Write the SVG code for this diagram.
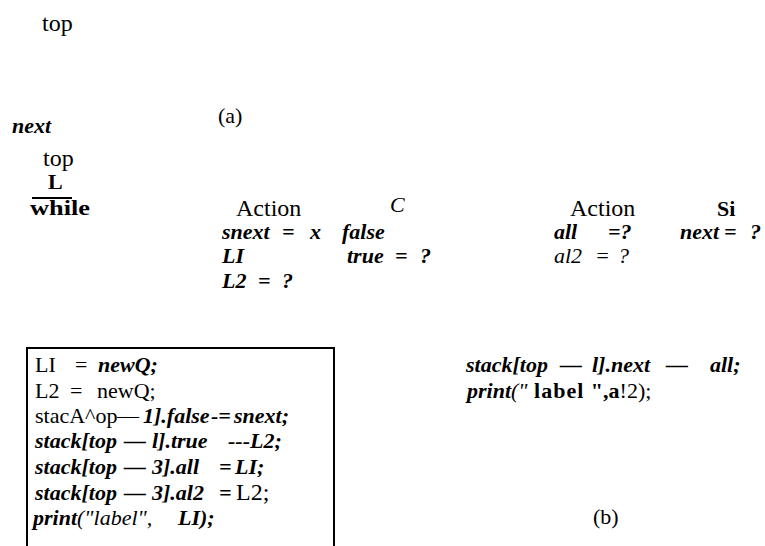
<svg xmlns="http://www.w3.org/2000/svg" width="765" height="546" viewBox="0 0 765 546" font-family="'Liberation Serif', 'Times New Roman', 'DejaVu Serif', serif">
<style>
text{font-family:'Liberation Serif','Times New Roman','DejaVu Serif',serif;font-size:22px;fill:#000}
.bi{font-weight:bold;font-style:italic}
.i{font-style:italic}
.b{font-weight:bold}
.r{font-weight:normal;font-style:normal}
.lab{font-size:24px}
.ln{stroke:#000;stroke-width:2;fill:none}
</style>
<rect width="765" height="546" fill="#fff"/>
<g id="part-a">
<text class="lab" x="42" y="31">top</text>
<text x="218" y="123">(a)</text>
<text class="bi" x="12" y="133" font-size="20">next</text>
</g>
<g id="stack-top">
<text class="lab" x="43" y="166">top</text>
<text class="b" x="48" y="189" font-size="30">L</text>
<line class="ln" x1="32" y1="198" x2="72" y2="198"/>
<text class="b" x="30" y="215" font-size="24" textLength="60" lengthAdjust="spacingAndGlyphs">while</text>
</g>
<g id="action-c">
<text class="lab" x="236" y="216">Action</text>
<text class="i" x="390" y="212">C</text>
<text class="bi" y="239"><tspan x="222">snext</tspan><tspan x="282">=</tspan><tspan x="310">x</tspan><tspan x="342">false</tspan></text>
<text class="bi" y="263"><tspan x="222">LI</tspan><tspan x="347">true</tspan><tspan x="395">=</tspan><tspan x="420">?</tspan></text>
<text class="bi" y="288"><tspan x="222">L2</tspan><tspan x="258">=</tspan><tspan x="282">?</tspan></text>
</g>
<g id="action-s">
<text class="lab" x="570" y="216">Action</text>
<text class="b" x="717" y="216">Si</text>
<text class="bi" y="239"><tspan x="554">all</tspan><tspan x="608">=?</tspan><tspan x="680">next</tspan><tspan x="724">=</tspan><tspan x="750">?</tspan></text>
<text class="i" y="263"><tspan x="554">al2</tspan><tspan x="595">=</tspan><tspan x="618">?</tspan></text>
</g>
<g id="code-box">
<path class="ln" d="M27,546 V348 H334 V546"/>
<text y="372"><tspan x="35">LI</tspan><tspan x="75">=</tspan><tspan x="98" class="bi">newQ;</tspan></text>
<text y="398"><tspan x="35">L2</tspan><tspan x="70">=</tspan><tspan x="97">newQ;</tspan></text>
<text y="423" font-size="21"><tspan x="35">stacA^op</tspan><tspan x="117">—</tspan><tspan x="143" class="bi">1].false</tspan><tspan x="211" class="bi">-=</tspan><tspan x="234" class="bi">snext;</tspan></text>
<text y="448" class="bi"><tspan x="35">stack[top</tspan><tspan x="124">—</tspan><tspan x="152">l].true</tspan><tspan x="228">---L2;</tspan></text>
<text y="474" class="bi"><tspan x="35">stack[top</tspan><tspan x="124">—</tspan><tspan x="152">3].all</tspan><tspan x="219">=</tspan><tspan x="235">LI;</tspan></text>
<text y="500" class="bi"><tspan x="35">stack[top</tspan><tspan x="124">—</tspan><tspan x="152">3].al2</tspan><tspan x="219">=</tspan><tspan x="236" class="r" font-size="24">L2;</tspan></text>
<text y="525"><tspan x="33" class="bi">print</tspan><tspan class="i">("label",</tspan><tspan x="178" class="bi">LI);</tspan></text>
</g>
<g id="code-right">
<text class="bi" y="372" font-size="23"><tspan x="466">stack[top</tspan><tspan x="560">—</tspan><tspan x="592">l].next</tspan><tspan x="666">—</tspan><tspan x="710">all;</tspan></text>
<text y="398" font-size="21"><tspan x="467" class="bi">print</tspan><tspan class="i">("</tspan><tspan class="b" letter-spacing="1"> label </tspan><tspan class="b">",a</tspan><tspan>!2);</tspan></text>
<text x="593" y="524">(b)</text>
</g>
</svg>
